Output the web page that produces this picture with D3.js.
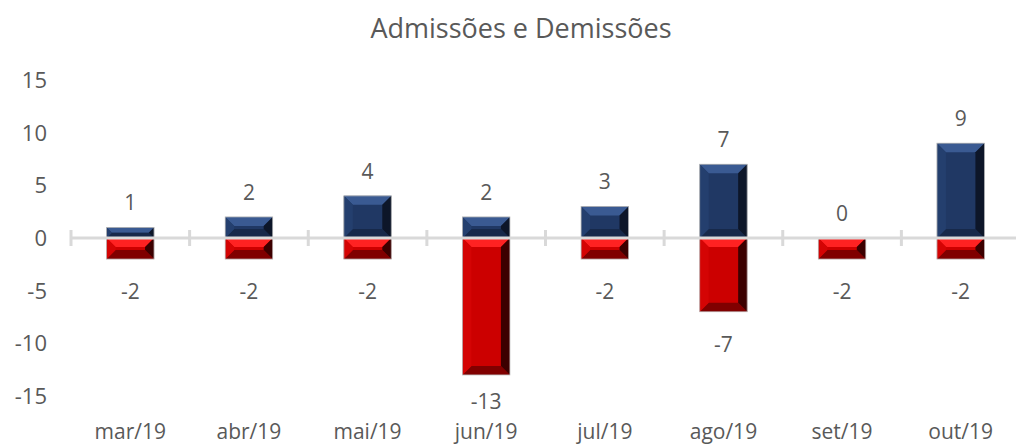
<!DOCTYPE html>
<html>
<head>
<meta charset="utf-8">
<script src="https://cdn.jsdelivr.net/npm/d3@7"></script>
<style>
  body { margin: 0; background: #fff; }
  text { font-family: "Open Sans", sans-serif; fill: #595959; }
</style>
</head>
<body>
<div class="chart"></div>
<script>
const meses = ["mar/19", "abr/19", "mai/19", "jun/19", "jul/19", "ago/19", "set/19", "out/19"];
const admissoes = [1, 2, 4, 2, 3, 7, 0, 9];
const demissoes = [-2, -2, -2, -13, -2, -7, -2, -2];
const yTicks = [15, 10, 5, 0, -5, -10, -15];

const w = 1016, h = 445;

const svg = d3.select(".chart")
    .append("svg")
    .attr("width", w)
    .attr("height", h);

const x = d3.scaleBand()
    .domain(meses)
    .range([71, 1020])
    .paddingInner(0.6)
    .paddingOuter(0.3);

const y = d3.scaleLinear()
    .domain([-15, 15])
    .range([396, 80]);

svg.append("text")
    .attr("x", 521)
    .attr("y", 38)
    .attr("text-anchor", "middle")
    .style("font-size", "27px")
    .text("Admissões e Demissões");

// y labels (no axis line)
svg.selectAll(".ylab")
    .data(yTicks)
    .enter()
    .append("text")
    .attr("class", "ylab")
    .attr("x", 47)
    .attr("y", d => y(d) + 8)
    .attr("text-anchor", "end")
    .style("font-size", "22px")
    .text(d => d);

// bevelled bars
const colors = {
    pos: {base: "#203864", top: "#3a5a92", bottom: "#17294a", left: "#243f6e", right: "#0d1629"},
    neg: {base: "#cc0000", top: "#ff2222", bottom: "#800000", left: "#d40404", right: "#3c0000"}
};

const drawBar = (g, x0, y0, bw, bh, c) => {
    if (bh <= 0) return;
    const b = Math.min(9, bh / 2, bw / 2);
    const x1 = x0 + bw, y1 = y0 + bh;
    g.append("rect").attr("x", x0).attr("y", y0).attr("width", bw).attr("height", bh)
        .attr("fill", c.base);
    const poly = (pts, fill) => g.append("polygon")
        .attr("points", pts.map(p => p.join(",")).join(" "))
        .attr("fill", fill);
    poly([[x0, y0], [x1, y0], [x1 - b, y0 + b], [x0 + b, y0 + b]], c.top);
    poly([[x0, y1], [x1, y1], [x1 - b, y1 - b], [x0 + b, y1 - b]], c.bottom);
    poly([[x0, y0], [x0 + b, y0 + b], [x0 + b, y1 - b], [x0, y1]], c.left);
    poly([[x1, y0], [x1 - b, y0 + b], [x1 - b, y1 - b], [x1, y1]], c.right);
    g.append("rect").attr("x", x0).attr("y", y0).attr("width", bw).attr("height", bh)
        .attr("fill", "none").attr("stroke", "#b8b8b8").attr("stroke-width", 0.8);
};

const bars = svg.append("g");
meses.forEach((m, i) => {
    const a = admissoes[i], d = demissoes[i];
    drawBar(bars, x(m), y(a), x.bandwidth(), y(0) - y(a), colors.pos);
    drawBar(bars, x(m), y(0), x.bandwidth(), y(d) - y(0), colors.neg);
});

// zero axis line with ticks
const step = x.step();
const axis = svg.append("g");
axis.append("line")
    .attr("x1", x.range()[0]).attr("x2", x.range()[1])
    .attr("y1", y(0)).attr("y2", y(0))
    .attr("stroke", "#d9d9d9").attr("stroke-width", 3);
axis.selectAll(".tk")
    .data(d3.range(meses.length + 1))
    .enter()
    .append("line")
    .attr("x1", i => x.range()[0] + i * step)
    .attr("x2", i => x.range()[0] + i * step)
    .attr("y1", y(0) - 8)
    .attr("y2", y(0) + 8)
    .attr("stroke", "#d9d9d9").attr("stroke-width", 3);

// data labels
svg.selectAll(".lpos")
    .data(meses)
    .enter()
    .append("text")
    .attr("x", m => x(m) + x.bandwidth() / 2)
    .attr("y", (m, i) => y(admissoes[i]) - 17)
    .attr("text-anchor", "middle")
    .style("font-size", "21px")
    .text((m, i) => admissoes[i]);

svg.selectAll(".lneg")
    .data(meses)
    .enter()
    .append("text")
    .attr("x", m => x(m) + x.bandwidth() / 2)
    .attr("y", (m, i) => Math.min(y(demissoes[i]) + 40, 409))
    .attr("text-anchor", "middle")
    .style("font-size", "21px")
    .text((m, i) => demissoes[i]);

// category labels
svg.selectAll(".xlab")
    .data(meses)
    .enter()
    .append("text")
    .attr("x", m => x(m) + x.bandwidth() / 2)
    .attr("y", 439)
    .attr("text-anchor", "middle")
    .style("font-size", "21px")
    .text(m => m);
</script>
</body>
</html>
